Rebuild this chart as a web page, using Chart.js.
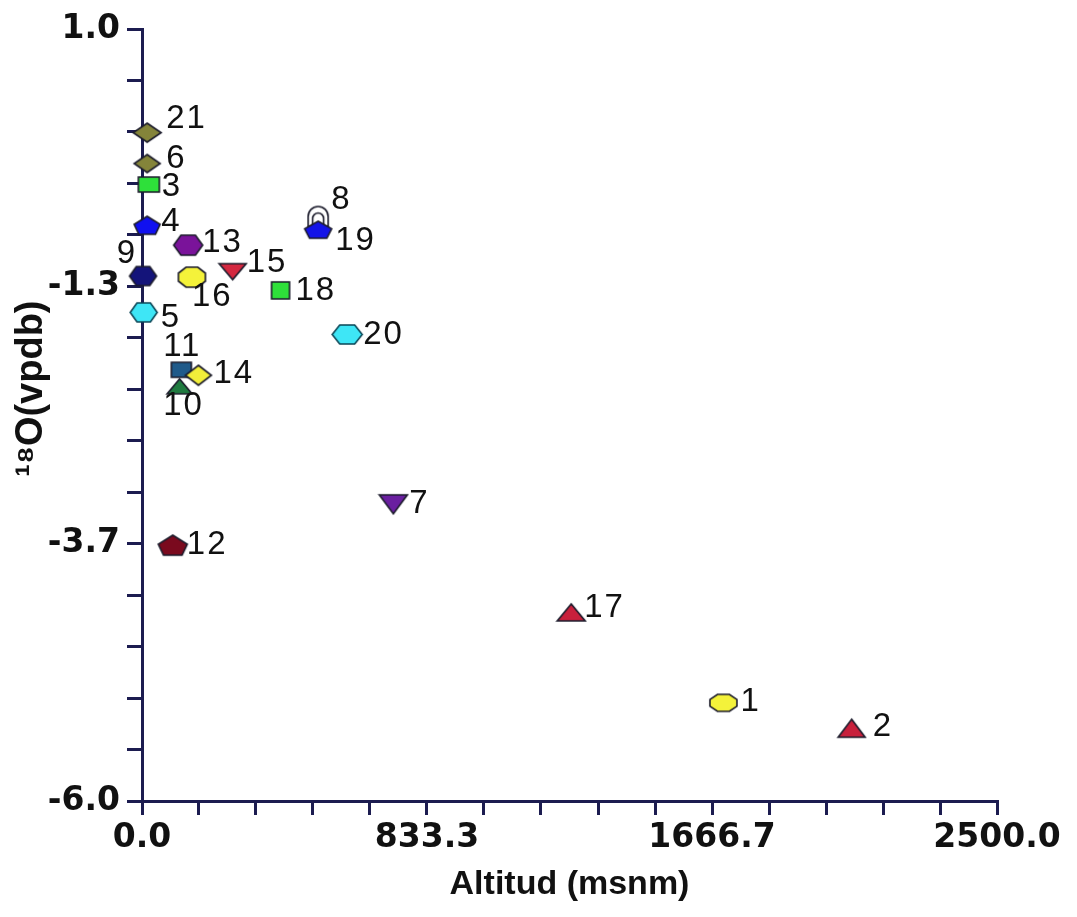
<!DOCTYPE html>
<html>
<head>
<meta charset="utf-8">
<script src="https://cdn.jsdelivr.net/npm/chart.js@4/dist/chart.umd.min.js"></script>
<style>
html,body{margin:0;padding:0;background:#ffffff;}
#wrap{width:1077px;height:917px;position:relative;}
</style>
</head>
<body>
<div id="wrap"><canvas id="c" width="1077" height="917"></canvas></div>
<script>
// ---- data ----
const sampleIds = ['1','2','3','4','5','6','7','8','9','10','11','12','13','14','15','16','17','18','19','20','21'];
const altitude  = [1700, 2075, 20, 15, 5, 15, 735, 515, 3, 110, 115, 90, 135, 165, 265, 146, 1255, 405, 515, 600, 15];
const d18O      = [-5.11, -5.34, -0.41, -0.78, -1.57, -0.22, -3.31, -0.70, -1.24, -2.24, -2.09, -3.68, -0.96, -2.14, -1.20, -1.25, -4.29, -1.37, -0.82, -1.77, 0.06];

// major tick values & labels
const xMajorValues = [0, 833.3333, 1666.6667, 2500];
const xMajorLabels = ['0.0', '833.3', '1666.7', '2500.0'];
const yMajorValues = [-6, -3.6667, -1.3333, 1];
const yMajorLabels = ['-6.0', '-3.7', '-1.3', '1.0'];
const minorPerMajor = 5;

// ---- marker styles (separate from data) ----
const markerStyle = [
  ['oct',  '#f4f23a', 27, 17],  // 1
  ['triU', '#c8203c', 27, 18],  // 2
  ['sq',   '#2ee03a', 21, 15],  // 3
  ['pent', '#1010f0', 26, 18],  // 4
  ['hex',  '#3ee6f6', 27, 19],  // 5
  ['dia',  '#84843a', 26, 18],  // 6
  ['triD', '#6a1fa0', 28, 19],  // 7
  ['ring', '#ffffff', 22, 20],  // 8
  ['hex',  '#14147a', 27, 19],  // 9
  ['triU', '#1f7a3f', 25, 15],  // 10
  ['sq',   '#1f5a8a', 20, 15],  // 11
  ['pent', '#7a0a1e', 29, 20],  // 12
  ['hex',  '#7a139a', 29, 20],  // 13
  ['dia',  '#f2ee3a', 26, 20],  // 14
  ['triD', '#d42840', 27, 16],  // 15
  ['oct',  '#f4f23a', 27, 20],  // 16
  ['triU', '#c8203c', 28, 17],  // 17
  ['sq',   '#2ee03a', 18, 17],  // 18
  ['pent', '#1414e8', 27, 17],  // 19
  ['hex',  '#3ee6f6', 30, 19],  // 20
  ['dia',  '#84843a', 28, 19]   // 21
];
// label placement: [align, dx, dy]
const labelPlacement = [
  ['left', 17, -1], ['left', 21, -1], ['left', 13, 2], ['left', 14, -3], ['left', 17, 5],
  ['left', 19, -5], ['left', 16, 0], ['left', 13, -17], ['center', -16, -22], ['center', 4, 20],
  ['center', 1, -23], ['left', 14, 0], ['left', 14, -2], ['left', 15, -1], ['left', 14, -9],
  ['left', 0, 20], ['left', 13, -5], ['left', 15, 1], ['left', 17, 11], ['left', 16, 0],
  ['left', 19, -14]
];

function makeMarker(shape, fill, w, h) {
  const m = 2;
  const cv = document.createElement('canvas');
  cv.width = w + 2*m; cv.height = h + 2*m;
  const c = cv.getContext('2d');
  c.translate(m, m);
  c.lineWidth = 1.6;
  c.strokeStyle = (fill === '#3ee6f6') ? '#0b4656' : '#1b1b2b';
  c.fillStyle = fill;
  c.beginPath();
  if (shape === 'hex') {
    c.moveTo(0.25*w, 0); c.lineTo(0.75*w, 0); c.lineTo(w, h/2); c.lineTo(0.75*w, h); c.lineTo(0.25*w, h); c.lineTo(0, h/2);
  } else if (shape === 'oct') {
    const a = 0.28*w, b = 0.3*h;
    c.moveTo(a, 0); c.lineTo(w-a, 0); c.lineTo(w, b); c.lineTo(w, h-b); c.lineTo(w-a, h); c.lineTo(a, h); c.lineTo(0, h-b); c.lineTo(0, b);
  } else if (shape === 'dia') {
    c.moveTo(w/2, 0); c.lineTo(w, h/2); c.lineTo(w/2, h); c.lineTo(0, h/2);
  } else if (shape === 'sq') {
    c.rect(0, 0, w, h);
  } else if (shape === 'triU') {
    c.moveTo(w/2, 0); c.lineTo(w, h); c.lineTo(0, h);
  } else if (shape === 'triD') {
    c.moveTo(0, 0); c.lineTo(w, 0); c.lineTo(w/2, h);
  } else if (shape === 'pent') {
    c.moveTo(0.5*w, 0); c.lineTo(w, 0.45*h); c.lineTo(0.82*w, h); c.lineTo(0.18*w, h); c.lineTo(0, 0.45*h);
  } else if (shape === 'ring') {
    // arch-like open marker
    c.moveTo(1, h);
    c.lineTo(1, h/2);
    c.arc(w/2, h/2, w/2 - 1, Math.PI, 0);
    c.lineTo(w-1, h);
    c.closePath(); c.fill(); c.stroke();
    c.beginPath();
    c.moveTo(w*0.25, h);
    c.lineTo(w*0.25, h*0.6);
    c.arc(w/2, h*0.6, w*0.25, Math.PI, 0);
    c.lineTo(w*0.75, h);
  }
  c.closePath();
  c.fill();
  c.stroke();
  return cv;
}
const markers = markerStyle.map(s => makeMarker(s[0], s[1], s[2], s[3]));

function buildTicks(majors) {
  const out = [];
  for (let i = 0; i < majors.length - 1; i++) {
    const a = majors[i], b = majors[i+1];
    for (let k = 0; k < minorPerMajor; k++) out.push({ value: a + (b - a) * k / minorPerMajor });
  }
  out.push({ value: majors[majors.length - 1] });
  return out;
}

const axisColor = '#1c1c50';
const tickFont = { family: '"DejaVu Sans", sans-serif', size: 33, weight: 'bold' };
const titleFont = { family: '"Liberation Sans", Arial, sans-serif', size: 34, weight: 'bold' };
const yTitleFont = { family: '"Liberation Sans", Arial, sans-serif', size: 38, weight: 'bold' };

const labelPlugin = {
  id: 'pointLabels',
  afterDatasetsDraw(chart) {
    const ctx = chart.ctx;
    const meta = chart.getDatasetMeta(0);
    ctx.save();
    ctx.font = '33px "Liberation Sans", Arial, sans-serif';
    ctx.fillStyle = '#111111';
    ctx.textBaseline = 'middle';
    if ('letterSpacing' in ctx) ctx.letterSpacing = '2px';
    meta.data.forEach((pt, i) => {
      const o = labelPlacement[i];
      ctx.textAlign = o[0];
      ctx.fillText(sampleIds[i], pt.x + o[1], pt.y + o[2]);
    });
    ctx.restore();
  }
};

new Chart(document.getElementById('c'), {
  type: 'scatter',
  data: {
    datasets: [{
      data: altitude.map((a, i) => ({ x: a, y: d18O[i] })),
      pointStyle: markers,
      pointRadius: 10,
      pointHoverRadius: 10,
      clip: false
    }]
  },
  options: {
    responsive: false,
    devicePixelRatio: 1,
    animation: false,
    events: [],
    layout: { padding: { top: 29, right: 80, bottom: 0, left: 0 } },
    plugins: { legend: { display: false }, tooltip: { enabled: false } },
    scales: {
      x: {
        type: 'linear', position: 'bottom', min: 0, max: 2500,
        afterBuildTicks: s => { s.ticks = buildTicks(xMajorValues); },
        afterFit: s => { s.height = 116; },
        ticks: {
          autoSkip: false, maxRotation: 0, minRotation: 0, padding: 4,
          color: '#111111', font: tickFont,
          callback: (v, i) => (i % minorPerMajor === 0 ? xMajorLabels[i / minorPerMajor] : '')
        },
        grid: { drawOnChartArea: false, drawTicks: true, tickLength: 14, tickWidth: 3, tickColor: axisColor, color: axisColor, lineWidth: 3 },
        border: { display: true, color: axisColor, width: 3 },
        title: { display: true, text: 'Altitud (msnm)', color: '#111111', font: titleFont, padding: { top: 0, bottom: 12 } }
      },
      y: {
        type: 'linear', position: 'left', min: -6, max: 1,
        afterBuildTicks: s => { s.ticks = buildTicks(yMajorValues); },
        afterFit: s => { s.width = 142; },
        ticks: {
          autoSkip: false, padding: 7,
          color: '#111111', font: tickFont,
          callback: (v, i) => (i % minorPerMajor === 0 ? yMajorLabels[i / minorPerMajor] : '')
        },
        grid: { drawOnChartArea: false, drawTicks: true, tickLength: 15, tickWidth: 3, tickColor: axisColor, color: axisColor, lineWidth: 3 },
        border: { display: true, color: axisColor, width: 3 },
        title: { display: true, text: '\u00a0\u00a0\u00a0\u00a0\u00a0¹⁸O(vpdb)', color: '#111111', font: yTitleFont, padding: { top: 9, bottom: 0 } }
      }
    }
  },
  plugins: [labelPlugin]
});
</script>
</body>
</html>
